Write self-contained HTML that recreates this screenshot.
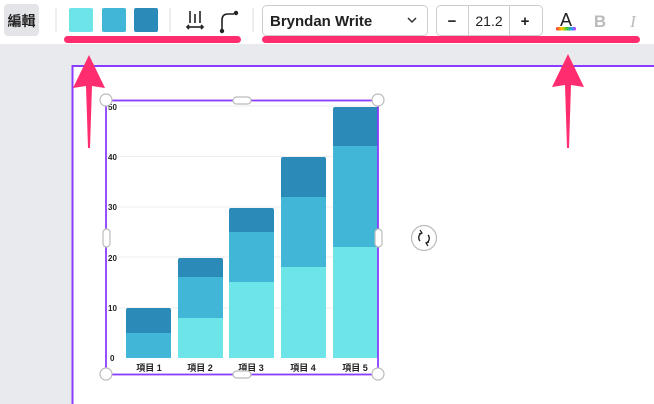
<!DOCTYPE html>
<html><head><meta charset="utf-8"><style>
html,body{margin:0;padding:0;width:654px;height:404px;overflow:hidden;background:#e9eaee;font-family:"Liberation Sans","Noto Sans CJK TC",sans-serif}
</style></head><body>
<svg width="654" height="404" viewBox="0 0 654 404" xmlns="http://www.w3.org/2000/svg" style="position:absolute;left:0;top:0">
<rect x="0" y="0" width="654" height="44" fill="#fff"/>
<rect x="0" y="44" width="654" height="360" fill="#e9eaee"/>
<!-- page -->
<rect x="73" y="66" width="581" height="338" fill="#fff"/>
<line x1="72.5" y1="65" x2="72.5" y2="404" stroke="#8b3dff" stroke-width="2"/>
<line x1="72" y1="66" x2="654" y2="66" stroke="#8b3dff" stroke-width="2"/>
<!-- toolbar -->
<rect x="4" y="4" width="35" height="32" rx="4" fill="#e4e5e9"/>
<text x="21.5" y="26" font-size="14" font-weight="bold" text-anchor="middle" fill="#222" font-family="Noto Sans CJK TC,sans-serif">編輯</text>
<line x1="56" y1="8" x2="56" y2="32" stroke="#ddd"/>
<rect x="69" y="8" width="24" height="24" rx="2" fill="#6ce4e8"/>
<rect x="102" y="8" width="24" height="24" rx="2" fill="#41b6d6"/>
<rect x="134" y="8" width="24" height="24" rx="2" fill="#2b8ab8"/>
<line x1="170" y1="8" x2="170" y2="32" stroke="#ddd"/>
<g stroke="#222" stroke-width="1.6" fill="none">
<line x1="190" y1="11" x2="190" y2="23"/><line x1="195" y1="14" x2="195" y2="23"/><line x1="200" y1="11" x2="200" y2="23"/>
<line x1="187" y1="27" x2="203" y2="27"/><path d="M189 25l-2 2 2 2M201 25l2 2-2 2"/>
<path d="M222 30V20q0-6 6-6h6"/>
</g>
<circle cx="222" cy="31" r="2.2" fill="#222"/><circle cx="236" cy="13" r="2.2" fill="#222"/>
<line x1="253" y1="8" x2="253" y2="32" stroke="#ddd"/>
<rect x="262.5" y="5.5" width="165" height="30" rx="4" fill="#fff" stroke="#ccc"/>
<text x="270" y="26" font-size="15" font-weight="bold" fill="#222">Bryndan Write</text>
<path d="M408 18l4 4 4-4" stroke="#333" stroke-width="1.5" fill="none"/>
<rect x="436.5" y="5.5" width="106" height="30" rx="4" fill="#fff" stroke="#ccc"/>
<line x1="468.5" y1="5" x2="468.5" y2="35" stroke="#ccc"/><line x1="509.5" y1="5" x2="509.5" y2="35" stroke="#ccc"/>
<text x="452" y="26" font-size="15" font-weight="bold" text-anchor="middle" fill="#222">−</text>
<text x="489" y="26" font-size="14" text-anchor="middle" fill="#222">21.2</text>
<text x="525" y="26" font-size="15" font-weight="bold" text-anchor="middle" fill="#222">+</text>
<text x="566" y="26" font-size="18" text-anchor="middle" fill="#222">A</text>
<defs><linearGradient id="rb"><stop offset="0" stop-color="#f33"/><stop offset=".3" stop-color="#fc0"/><stop offset=".55" stop-color="#3c3"/><stop offset=".8" stop-color="#39f"/><stop offset="1" stop-color="#c3f"/></linearGradient></defs>
<rect x="556" y="27" width="20" height="3.5" rx="1.5" fill="url(#rb)"/>
<text x="600" y="27" font-size="17" font-weight="bold" text-anchor="middle" fill="#bbb">B</text>
<text x="633" y="27" font-size="17" font-style="italic" text-anchor="middle" fill="#bbb" font-family="Liberation Serif,serif">I</text>
<!-- chart -->
<g stroke="#eee" stroke-width="1">
<line x1="118" y1="106" x2="378" y2="106"/><line x1="118" y1="156.5" x2="378" y2="156.5"/><line x1="118" y1="207" x2="378" y2="207"/><line x1="118" y1="257" x2="378" y2="257"/><line x1="118" y1="308" x2="378" y2="308"/>
</g>
<g font-size="8" font-weight="bold" fill="#222">
<text x="108" y="110">50</text><text x="108" y="160">40</text><text x="108" y="210">30</text><text x="108" y="261">20</text><text x="108" y="311">10</text><text x="110" y="361">0</text>
</g>
<!-- unit 5.04px, zero 358 -->
<g>
<rect x="126" y="333" width="45" height="25" fill="#41b6d6"/><path d="M126 333V310a2 2 0 0 1 2-2h41a2 2 0 0 1 2 2v23z" fill="#2b8ab8"/>
<rect x="178" y="318" width="45" height="40" fill="#6ce4e8"/><rect x="178" y="277" width="45" height="41" fill="#41b6d6"/><path d="M178 277V260a2 2 0 0 1 2-2h41a2 2 0 0 1 2 2v17z" fill="#2b8ab8"/>
<rect x="229" y="282" width="45" height="76" fill="#6ce4e8"/><rect x="229" y="232" width="45" height="50" fill="#41b6d6"/><path d="M229 232V210a2 2 0 0 1 2-2h41a2 2 0 0 1 2 2v22z" fill="#2b8ab8"/>
<rect x="281" y="267" width="45" height="91" fill="#6ce4e8"/><rect x="281" y="197" width="45" height="70" fill="#41b6d6"/><path d="M281 197V159a2 2 0 0 1 2-2h41a2 2 0 0 1 2 2v38z" fill="#2b8ab8"/>
<rect x="333" y="247" width="45" height="111" fill="#6ce4e8"/><rect x="333" y="146" width="45" height="101" fill="#41b6d6"/><path d="M333 146V109a2 2 0 0 1 2-2h43v39z" fill="#2b8ab8"/>
</g>
<g font-size="9" font-weight="bold" fill="#222" text-anchor="middle" font-family="Liberation Sans,Noto Sans CJK TC,sans-serif">
<text x="149" y="371">項目 1</text><text x="200" y="371">項目 2</text><text x="251" y="371">項目 3</text><text x="303" y="371">項目 4</text><text x="355" y="371">項目 5</text>
</g>
<!-- selection -->
<rect x="106" y="100.5" width="272" height="274" fill="none" stroke="#8b3dff" stroke-width="1.8"/>
<g fill="#fff" stroke="#bbb" stroke-width="1.2">
<circle cx="106" cy="100" r="6"/><circle cx="378" cy="100" r="6"/><circle cx="106" cy="374" r="6"/><circle cx="378" cy="374" r="6"/>
<rect x="233" y="97" width="18" height="7" rx="3.5"/><rect x="233" y="371" width="18" height="7" rx="3.5"/>
<rect x="103" y="229" width="7" height="18" rx="3.5"/><rect x="375" y="229" width="7" height="18" rx="3.5"/>
<circle cx="424" cy="238" r="12.5"/>
</g>
<path d="M420 241a5 5 0 0 1 2-8M428 235a5 5 0 0 1-2 8" stroke="#222" stroke-width="1.4" fill="none"/>
<path d="M420 230l2 3-3 1M428 246l-2-3 3-1" stroke="#222" stroke-width="1.2" fill="none"/>
<!-- pink annotations -->
<rect x="64" y="36" width="177" height="7" rx="3.5" fill="#ff2d6f"/>
<rect x="262" y="36" width="378" height="7" rx="3.5" fill="#ff2d6f"/>
<path d="M89 55L105 88L92 86L90 148L88 148L86 86L73 88Z" fill="#ff2d6f"/>
<path d="M568 54L584 87L571 85L569 148L567 148L565 85L552 87Z" fill="#ff2d6f"/>
</svg>
</body></html>
